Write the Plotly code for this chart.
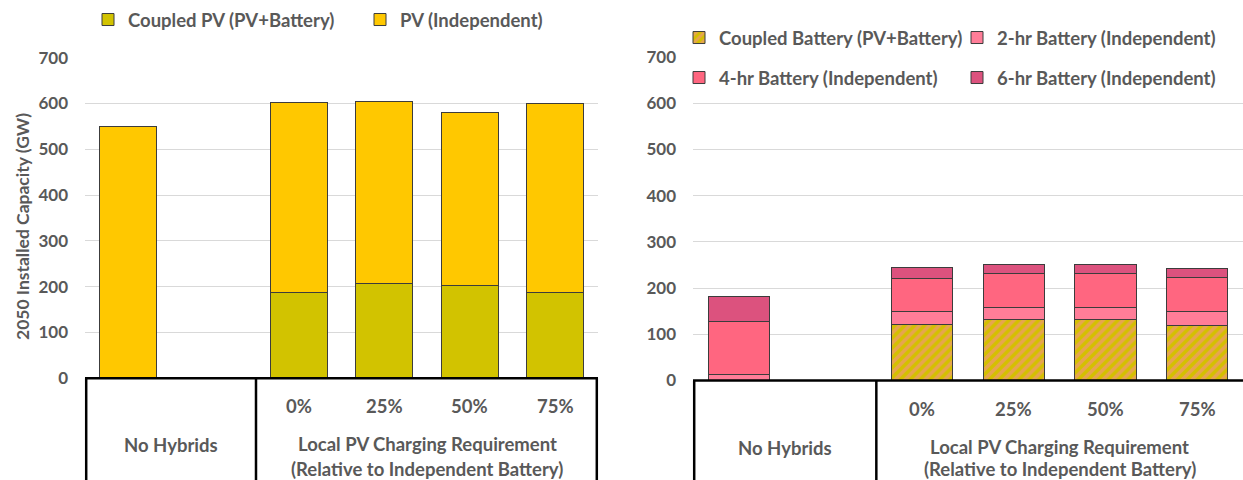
import plotly.graph_objects as go

# ---------------- data ----------------
slots = ["No Hybrids", "gap", "0%", "25%", "50%", "75%"]
categories = ["No Hybrids", "0%", "25%", "50%", "75%"]
pct_labels = ["0%", "25%", "50%", "75%"]

coupled_pv = [0, 188, 206, 203, 187]
pv_independent = [550, 415, 398, 377, 414]

coupled_battery = [0, 121, 133, 131, 120]
battery_2hr = [14, 28, 25, 27, 29]
battery_4hr = [113, 72, 74, 74, 73]
battery_6hr = [54, 23, 19, 19, 21]

y_ticks = [0, 100, 200, 300, 400, 500, 600, 700]

# ---------------- style ----------------
W, H = 1243, 480
FONT = "Lato"
GREY = "#595959"
EDGE = "#3c3c3c"
LAB = 18.5


def px_x(p):
    return p / W


def px_y(p):
    return 1 - p / H


L_DOM = [px_x(85), px_x(598)]
R_DOM = [px_x(693), 1.0]
L_YDOM = [px_y(378.3), px_y(57.7)]
R_YDOM = [px_y(380.5), px_y(57.1)]

fig = go.Figure()

bar_w = 0.67
fig.add_trace(go.Bar(x=categories, y=coupled_pv, name="Coupled PV (PV+Battery)",
                     marker=dict(color="#D2C300", line=dict(color=EDGE, width=1)),
                     width=bar_w, xaxis="x", yaxis="y", legend="legend"))
fig.add_trace(go.Bar(x=categories, y=pv_independent, name="PV (Independent)",
                     marker=dict(color="#FFC800", line=dict(color=EDGE, width=1)),
                     width=bar_w, xaxis="x", yaxis="y", legend="legend2"))

fig.add_trace(go.Bar(x=categories, y=coupled_battery, name="Coupled Battery (PV+Battery)",
                     marker=dict(color="#D4C000", line=dict(color=EDGE, width=1),
                                 pattern=dict(shape="/", fgcolor="#F98A9E", bgcolor="#D4C000",
                                              size=7, solidity=0.5)),
                     width=bar_w, xaxis="x2", yaxis="y2", legend="legend3"))
fig.add_trace(go.Bar(x=categories, y=battery_2hr, name="2-hr Battery (Independent)",
                     marker=dict(color="#FF7D98", line=dict(color=EDGE, width=1)),
                     width=bar_w, xaxis="x2", yaxis="y2", legend="legend4"))
fig.add_trace(go.Bar(x=categories, y=battery_4hr, name="4-hr Battery (Independent)",
                     marker=dict(color="#FF6680", line=dict(color=EDGE, width=1)),
                     width=bar_w, xaxis="x2", yaxis="y2", legend="legend5"))
fig.add_trace(go.Bar(x=categories, y=battery_6hr, name="6-hr Battery (Independent)",
                     marker=dict(color="#DC527E", line=dict(color=EDGE, width=1)),
                     width=bar_w, xaxis="x2", yaxis="y2", legend="legend6"))

xcommon = dict(type="category", categoryorder="array", categoryarray=slots,
               range=[-0.5, len(slots) - 0.5], showticklabels=False, showgrid=False,
               zeroline=False, showline=False, ticks="", automargin=False)
ycommon = dict(range=[0, 700], tickvals=y_ticks, showgrid=True, gridcolor="#D9D9D9",
               gridwidth=1, zeroline=False, showline=False, ticks="",
               ticklabelstandoff=16, automargin=False,
               tickfont=dict(family=FONT, size=17, color=GREY, weight="bold"))

legfont = dict(family=FONT, size=LAB, color=GREY, weight="bold")


def leg(xpx, ypx):
    return dict(orientation="v", x=px_x(xpx), y=px_y(ypx), xanchor="left", yanchor="middle",
                font=legfont, bgcolor="rgba(0,0,0,0)", borderwidth=0)


fig.update_layout(
    width=W, height=H,
    margin=dict(l=0, r=0, t=0, b=0, autoexpand=False),
    paper_bgcolor="white", plot_bgcolor="white",
    barmode="stack",
    xaxis=dict(domain=L_DOM, anchor="y", **xcommon),
    yaxis=dict(domain=L_YDOM, anchor="x", **ycommon),
    xaxis2=dict(domain=R_DOM, anchor="y2", **xcommon),
    yaxis2=dict(domain=R_YDOM, anchor="x2", **ycommon),
    legend=leg(88, 20),
    legend2=leg(360, 20),
    legend3=leg(679, 38),
    legend4=leg(957, 38),
    legend5=leg(679, 78),
    legend6=leg(957, 78),
    showlegend=True,
)

shapes = []
annotations = []
for xa, dom, ydom, right_edge, l2 in (("x", L_DOM, L_YDOM, True, 468.5),
                                     ("x2", R_DOM, R_YDOM, False, 468.5)):
    top = ydom[0]
    # top rule of the category box
    shapes.append(dict(type="line", xref="paper", yref="paper", x0=dom[0], x1=dom[1],
                       y0=top, y1=top, line=dict(color="black", width=2.5)))
    # vertical separators
    edges = [dom[0] + 1.2 / W] + ([dom[1] - 1.2 / W] if right_edge else [])
    for xv in edges:
        shapes.append(dict(type="line", xref="paper", yref="paper", x0=xv, x1=xv,
                           y0=-0.05, y1=top, line=dict(color="black", width=2.5)))
    shapes.append(dict(type="line", xref=xa, yref="paper", x0=1.5, x1=1.5,
                       y0=-0.05, y1=top, line=dict(color="black", width=2.5)))
    lab_font = dict(family=FONT, size=LAB, color=GREY, weight="bold")
    for lab in pct_labels:
        annotations.append(dict(x=lab, y=top - 28 / H, xref=xa, yref="paper",
                                text=lab, showarrow=False, yanchor="middle", font=lab_font))
    annotations.append(dict(x=0.5, y=top - 67 / H, xref=xa, yref="paper",
                            text=categories[0], showarrow=False, yanchor="middle",
                            font=lab_font))
    annotations.append(dict(x=3.5, y=top - 66 / H, xref=xa, yref="paper",
                            text="Local PV Charging Requirement", showarrow=False,
                            yanchor="middle", font=lab_font))
    annotations.append(dict(x=3.5, y=px_y(l2), xref=xa, yref="paper",
                            text="(Relative to Independent Battery)", showarrow=False,
                            yanchor="middle", font=lab_font))

annotations.append(dict(x=px_x(22), y=px_y(227), xref="paper", yref="paper",
                        xanchor="center", yanchor="middle",
                        text="2050 Installed Capacity (GW)", textangle=-90, showarrow=False,
                        font=dict(family=FONT, size=17.5, color=GREY, weight="bold")))

fig.update_layout(shapes=shapes, annotations=annotations)

fig.write_html("out.html",
               config={"displayModeBar": False},
               post_script="document.body.style.margin='0px';"
                           "document.body.style.overflow='hidden';")
